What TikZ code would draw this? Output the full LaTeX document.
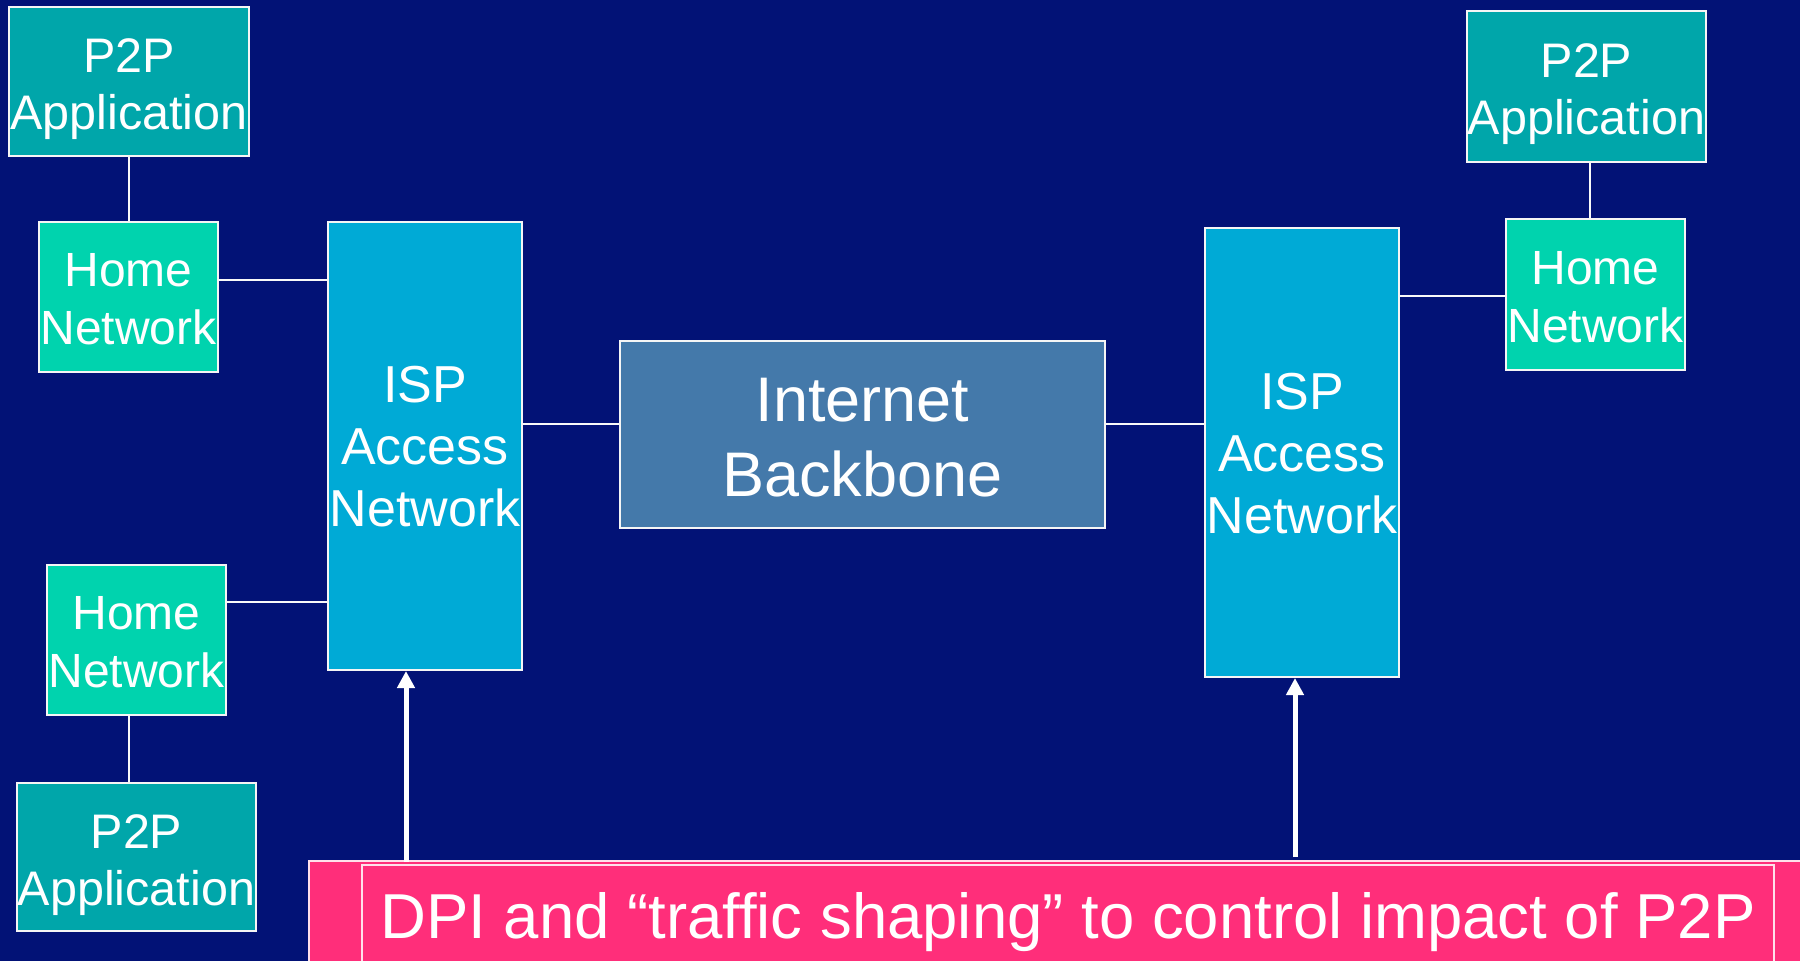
\documentclass[tikz,border=0pt]{standalone}
\usepackage{fontspec}
\setmainfont{Liberation Sans}
\usetikzlibrary{arrows.meta}
\definecolor{bgnavy}{RGB}{2,18,118}
\definecolor{appteal}{RGB}{0,166,170}
\definecolor{homegreen}{RGB}{0,211,174}
\definecolor{ispblue}{RGB}{0,170,214}
\definecolor{coreblue}{RGB}{68,121,170}
\definecolor{dpipink}{RGB}{255,46,122}
\begin{document}
\begin{tikzpicture}[x=1pt,y=-1pt,
  box/.style={draw=white!92!gray,line width=2pt,inner sep=0pt},
  appbox/.style={box,fill=appteal,minimum width=240pt,minimum height=149pt},
  homebox/.style={box,fill=homegreen,minimum width=179pt,minimum height=150pt},
  ispbox/.style={box,fill=ispblue,minimum width=194pt,minimum height=448pt},
  lbl/.style={inner sep=0pt,align=center,text=white},
  apptext/.style={lbl,yshift=-8pt,font=\fontsize{48.5}{57}\selectfont},
  hometext/.style={lbl,yshift=-3pt,font=\fontsize{48}{58}\selectfont},
  isptext/.style={lbl,yshift=-1pt,font=\fontsize{52}{62}\selectfont},
  link/.style={draw=white!95!gray,line width=2pt},
  push/.style={draw=white,line width=5pt,-{Triangle[width=17pt,length=17pt]}}]
% canvas
\fill[bgnavy] (0,0) rectangle (1800,961);
\useasboundingbox (0,0) rectangle (1800,961);

% left side
\node[appbox]  (appTL)  at (129,81.5) {};
\node[apptext] (appTLt) at (appTL.center) {P2P\\Application};
\node[homebox] (homeTL) at (128.5,296.5) {};
\node[hometext] (homeTLt) at (homeTL.center) {Home\\Network};
\node[ispbox]  (ispL)   at (425,446) {};
\node[isptext] (ispLt)  at (ispL.center) {ISP\\Access\\Network};
\node[homebox] (homeBL) at (136.5,639.5) {};
\node[hometext] (homeBLt) at (homeBL.center) {Home\\Network};
\node[appbox,minimum width=239pt,minimum height=148pt] (appBL) at (136.5,857) {};
\node[apptext] (appBLt) at (appBL.center) {P2P\\Application};

% backbone
\node[box,fill=coreblue,minimum width=485pt,minimum height=187pt] (ib) at (862.5,434.5) {};
\node[lbl,yshift=-3pt,font=\fontsize{63}{75}\selectfont] (ibt) at (ib.center) {Internet\\Backbone};

% right side
\node[ispbox,minimum height=449pt] (ispR) at (1302,452.5) {};
\node[isptext] (ispRt) at (ispR.center) {ISP\\Access\\Network};
\node[homebox,minimum height=151pt] (homeTR) at (1595.5,294.5) {};
\node[hometext] (homeTRt) at (homeTR.center) {Home\\Network};
\node[appbox,minimum width=239pt,minimum height=151pt] (appTR) at (1586.5,86.5) {};
\node[apptext] (appTRt) at (appTR.center) {P2P\\Application};

% bottom banner
\node[box,draw=white!85!dpipink,line width=1.5pt,fill=dpipink,minimum width=1510pt,minimum height=140pt,
  anchor=north west] (dpiBack) at (308,860) {};
\node[box,draw=white!85!dpipink,line width=2pt,fill=dpipink,minimum width=1412pt,minimum height=102pt]
  (dpi) at (1068,916) {};
\node[lbl,yshift=-6pt,font=\fontsize{63.5}{76}\selectfont] (dpit) at (dpi.center)
  {DPI and “traffic shaping” to control impact of P2P};

% links
\draw[link] (appTL.south -| 129,0) -- (homeTL.north -| 129,0);
\draw[link] (homeTL.east |- 0,280) -- (ispL.west |- 0,280);
\draw[link] (homeBL.east |- 0,602) -- (ispL.west |- 0,602);
\draw[link] (homeBL.south -| 129,0) -- (appBL.north -| 129,0);
\draw[link] (ispL.east |- 0,424) -- (ib.west |- 0,424);
\draw[link] (ib.east |- 0,424) -- (ispR.west |- 0,424);
\draw[link] (ispR.east |- 0,296) -- (homeTR.west |- 0,296);
\draw[link] (appTR.south -| 1590,0) -- (homeTR.north -| 1590,0);

% DPI arrows
\coordinate (pL) at (406,862);
\coordinate (pR) at (1295,857);
\draw[push] (pL) -- (ispL.south -| pL);
\draw[push] (pR) -- (ispR.south -| pR);
\end{tikzpicture}
\end{document}
